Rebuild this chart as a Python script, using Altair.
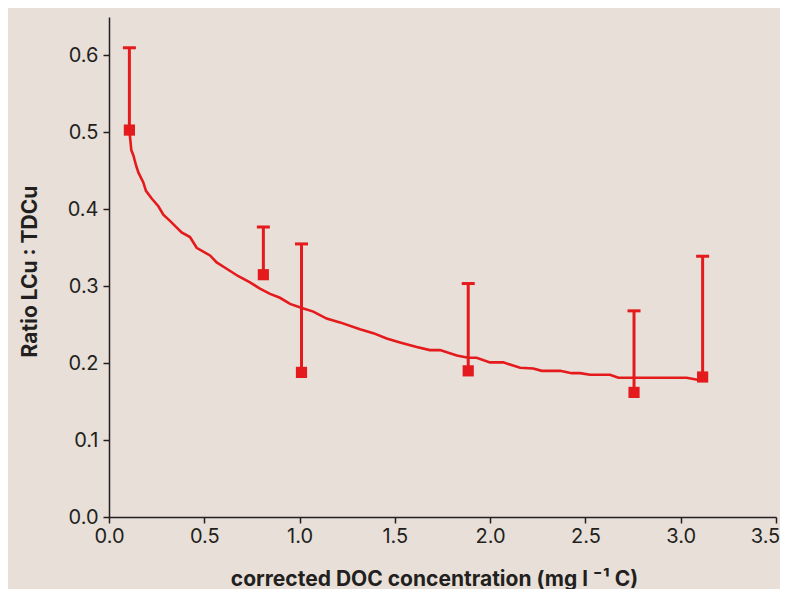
import altair as alt
import pandas as pd

# Fitted curve
curve_x = [0.107, 0.117, 0.128, 0.142, 0.154, 0.180, 0.194, 0.224, 0.259, 0.285, 0.320,
           0.381, 0.425, 0.460, 0.530, 0.565, 0.609, 0.679, 0.740, 0.792, 0.845, 0.897,
           0.950, 1.008, 1.072, 1.142, 1.212, 1.317, 1.387, 1.457, 1.527, 1.615, 1.684,
           1.737, 1.825, 1.885, 1.929, 1.999, 2.069, 2.157, 2.226, 2.271, 2.367, 2.428,
           2.472, 2.524, 2.629, 2.673, 3.031, 3.095]
curve_y = [0.503, 0.477, 0.470, 0.457, 0.448, 0.435, 0.424, 0.414, 0.404, 0.393, 0.385,
           0.370, 0.364, 0.350, 0.340, 0.331, 0.324, 0.313, 0.305, 0.297, 0.290, 0.285,
           0.277, 0.272, 0.267, 0.258, 0.253, 0.244, 0.239, 0.232, 0.227, 0.221, 0.217,
           0.217, 0.210, 0.207, 0.207, 0.201, 0.201, 0.194, 0.193, 0.190, 0.190, 0.187,
           0.187, 0.185, 0.185, 0.181, 0.181, 0.178]

# Measured points with upper error bars
pt_x = [0.107, 0.81, 1.01, 1.885, 2.755, 3.115]
pt_y = [0.503, 0.315, 0.188, 0.190, 0.162, 0.182]
pt_top = [0.610, 0.377, 0.355, 0.3035, 0.268, 0.339]

RED = "#e41a1c"
BG = "#e7dfd8"
INK = "#231f20"
FONT = "Inter"

curve = pd.DataFrame({"x": curve_x, "y": curve_y, "i": list(range(len(curve_x)))})
pts = pd.DataFrame({"x": pt_x, "y": pt_y, "top": pt_top})

xscale = alt.Scale(domain=[0, 3.5], nice=False, zero=True)
yscale = alt.Scale(domain=[0, 0.65], nice=False, zero=True)

xaxis = alt.Axis(
    title="corrected DOC concentration (mg l \u207b\u00b9 C)",
    values=[0, 0.5, 1.0, 1.5, 2.0, 2.5, 3.0, 3.5], format=".1f",
    grid=False, domainColor=INK, tickColor=INK, domainWidth=1.5, tickWidth=1.5,
    tickSize=6, labelFontSize=20, labelColor=INK, labelFont=FONT, labelPadding=3,
    labelFlush=False, labelOverlap=False,
    labelOffset={"condition": {"test": "datum.value >= 3.4", "value": -11}, "value": 0},
    titleFont=FONT, titleFontSize=21, titleFontWeight="bold", titleColor=INK,
    titleX=325, titleY=68, titleBaseline="alphabetic", titleAlign="center",
)
yaxis = alt.Axis(
    title="Ratio LCu : TDCu",
    values=[0, 0.1, 0.2, 0.3, 0.4, 0.5, 0.6], format=".1f",
    grid=False, domainColor=INK, tickColor=INK, domainWidth=1.5, tickWidth=1.5,
    tickSize=6, labelFontSize=20, labelColor=INK, labelFont=FONT, labelPadding=5,
    labelFlush=False, labelOverlap=False,
    titleFont=FONT, titleFontSize=21, titleFontWeight="bold", titleColor=INK,
    titleX=-79, titleY=254, titleAngle=-90, titleBaseline="middle", titleAlign="center",
)

line = alt.Chart(curve).mark_line(color=RED, strokeWidth=2.6).encode(
    x=alt.X("x:Q", scale=xscale, axis=xaxis),
    y=alt.Y("y:Q", scale=yscale, axis=yaxis),
    order="i:Q",
)
bars = alt.Chart(pts).mark_rule(color=RED, strokeWidth=3, opacity=1).encode(
    x="x:Q", y="y:Q", y2="top:Q"
)
caps = alt.Chart(pts).mark_tick(color=RED, thickness=3, size=13, orient="horizontal",
                                opacity=1).encode(
    x="x:Q", y="top:Q"
)
squares = alt.Chart(pts).mark_square(color=RED, opacity=1, size=125).encode(
    x="x:Q", y="y:Q"
)

chart = alt.layer(line, bars, caps, squares).properties(
    width=667, height=500,
    background=BG,
    padding={"left": 101, "top": 9, "right": 4, "bottom": 72},
    autosize=alt.AutoSizeParams(type="none"),
).configure_view(stroke=None)

chart.save("out.html", embed_options={"renderer": "svg", "actions": False})
